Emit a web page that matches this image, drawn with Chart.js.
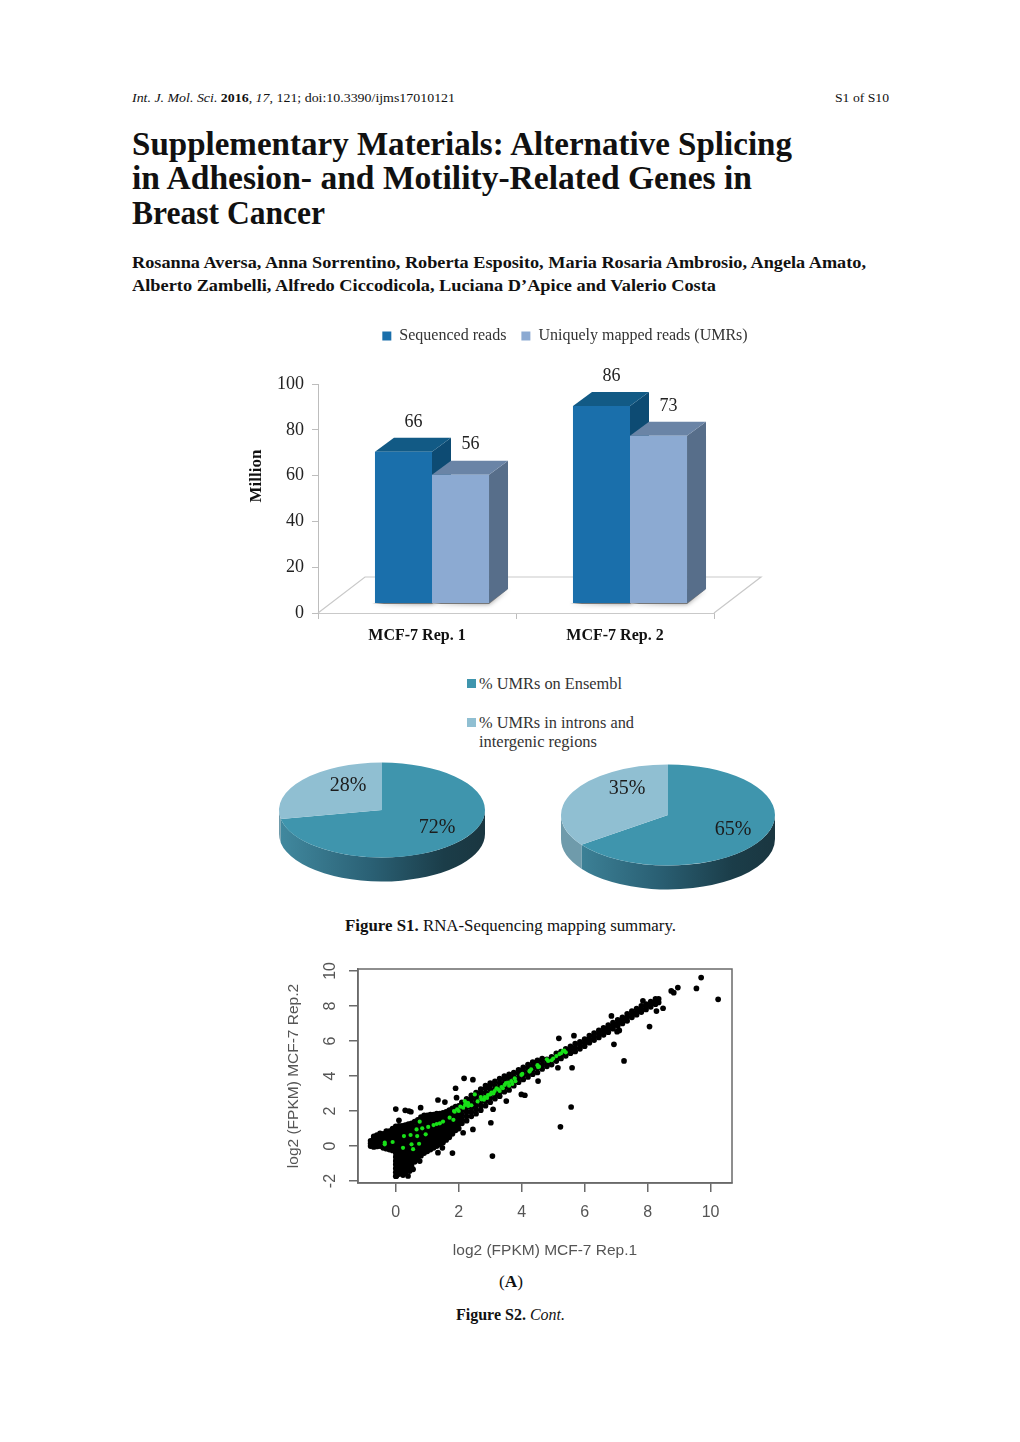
<!DOCTYPE html>
<html><head><meta charset="utf-8">
<script src="https://cdn.jsdelivr.net/npm/chart.js@4"></script>
<style>
html,body{margin:0;padding:0;background:#fff;width:1020px;height:1442px;overflow:hidden}
.t{position:absolute;white-space:nowrap;transform-origin:0 50%;font-family:"Liberation Serif",serif;color:#111;line-height:1}
canvas{position:absolute;filter:blur(.35px)}
.sw{position:absolute;width:9px;height:9px}
</style></head><body>
<div class="t" data-w="323" style="left:132px;top:91px;font-size:13.5px"><i>Int. J. Mol. Sci.</i> <b>2016</b>, <i>17</i>, 121; doi:10.3390/ijms17010121</div>
<div class="t" data-w="54" style="left:835px;top:91px;font-size:13.5px">S1 of S10</div>
<div class="t" data-w="660" style="left:132px;top:128px;font-size:33px;font-weight:bold">Supplementary Materials: Alternative Splicing</div>
<div class="t" data-w="620" style="left:132px;top:162px;font-size:33px;font-weight:bold">in Adhesion- and Motility-Related Genes in</div>
<div class="t" data-w="193" style="left:132px;top:197px;font-size:33px;font-weight:bold">Breast Cancer</div>
<div class="t" data-w="734" style="left:132px;top:254px;font-size:17px;font-weight:bold">Rosanna Aversa, Anna Sorrentino, Roberta Esposito, Maria Rosaria Ambrosio, Angela Amato,</div>
<div class="t" data-w="584" style="left:132px;top:277px;font-size:17px;font-weight:bold">Alberto Zambelli, Alfredo Ciccodicola, Luciana D’Apice and Valerio Costa</div>
<div class="sw" style="left:467px;top:679px;background:#3f95ad"></div>
<div class="t" data-w="143" style="left:479px;top:676px;font-size:16px;color:#333">% UMRs on Ensembl</div>
<div class="sw" style="left:467px;top:718px;background:#90bfd2"></div>
<div class="t" data-w="155" style="left:479px;top:715px;font-size:16px;color:#333">% UMRs in introns and</div>
<div class="t" data-w="118" style="left:479px;top:734px;font-size:16px;color:#333">intergenic regions</div>
<div class="t" data-w="331" style="left:345px;top:918px;font-size:16.5px"><b>Figure S1.</b> RNA-Sequencing mapping summary.</div>
<div class="t" data-w="24" style="left:499px;top:1274px;font-size:16.5px">(<b>A</b>)</div>
<div class="t" data-w="109" style="left:456px;top:1307px;font-size:16.5px"><b>Figure S2.</b> <i>Cont.</i></div>

<canvas id="bars" width="650" height="347" style="left:240px;top:313px"></canvas>
<canvas id="pieA" width="230" height="230" style="left:267px;top:695px"></canvas>
<canvas id="pieB" width="240" height="240" style="left:548px;top:695px"></canvas>
<canvas id="scatter" width="470" height="310" style="left:280px;top:955px"></canvas>

<script>
// ---- Figure S1 bar chart
const barCategories=['MCF-7 Rep. 1','MCF-7 Rep. 2'];
const sequencedReads=[66,86];
const uniquelyMappedReads=[56,73];
const barTicks=[0,20,40,60,80,100];
// ---- Figure S1 pie charts
const pieLabels=['% UMRs on Ensembl','% UMRs in introns and intergenic regions'];
const pieRep1=[72,28];
const pieRep2=[65,35];
// ---- Figure S2A scatter, log2 FPKM Rep.1 (x) against Rep.2 (y)
const scatterXTicks=[0,2,4,6,8,10];
const scatterYTicks=[-2,0,2,4,6,8,10];
// columns: [x,[y,y,...]]
const denseLow=[
[-0.8,[0,0.15,0.3]],[-0.7,[-0.05,0.12,0.3,0.48,0.55]],[-0.6,[-0.02,0.15,0.32,0.5,0.62]],[-0.5,[0,0.2,0.4,0.55,0.72]],
[-0.4,[-0.1,0.1,0.3,0.5,0.7]],[-0.3,[-0.15,0.05,0.25,0.45,0.65,0.85]],[-0.2,[-0.2,0,0.2,0.4,0.6,0.85]],[-0.1,[-0.25,0,0.2,0.4,0.6,0.8,1.0]],
[0,[-1.72,-1.5,-1.28,-1.05,-0.85,-0.62,-0.4,-0.2,0,0.2,0.4,0.6,0.8,1.0,1.12]],
[0.1,[-1.6,-1.4,-1.2,-1,-0.8,-0.6,-0.4,-0.2,0,0.2,0.4,0.6,0.8,1.0,1.15]],
[0.2,[-1.45,-1.25,-1.05,-0.85,-0.65,-0.45,-0.25,-0.05,0.15,0.35,0.55,0.75,0.95,1.15]],
[0.3,[-1.55,-1.3,-1.1,-0.9,-0.7,-0.5,-0.3,-0.1,0.1,0.3,0.5,0.7,0.9,1.1,1.2]],
[0.4,[-1.25,-1.05,-0.85,-0.65,-0.45,-0.25,-0.05,0.15,0.35,0.55,0.75,0.95,1.15,1.25]],
[0.5,[-1.15,-0.95,-0.75,-0.55,-0.35,-0.15,0.05,0.25,0.45,0.65,0.85,1.05,1.3]],
[0.6,[-0.9,-0.7,-0.5,-0.3,-0.1,0.1,0.3,0.5,0.7,0.9,1.1,1.4]],
[0.7,[-0.7,-0.45,-0.2,0.05,0.3,0.55,0.8,1.05,1.3,1.5]],
[0.8,[-0.55,-0.3,-0.05,0.2,0.45,0.7,0.95,1.2,1.45,1.65]],
[0.9,[-0.4,-0.15,0.1,0.35,0.6,0.85,1.1,1.35,1.6,1.75]],
[1,[-0.3,-0.05,0.2,0.45,0.7,0.95,1.2,1.45,1.7,1.75]],
[1.1,[-0.2,0.05,0.3,0.55,0.8,1.05,1.3,1.55,1.8]],
[1.2,[-0.1,0.15,0.4,0.65,0.9,1.15,1.4,1.65,1.8]],
[1.3,[0,0.25,0.5,0.75,1,1.25,1.5,1.75,1.85]],
[1.4,[0.1,0.35,0.6,0.85,1.1,1.35,1.6,1.85]],
[1.5,[0.2,0.45,0.7,0.95,1.2,1.45,1.7,1.9]],
[1.6,[0.35,0.6,0.85,1.1,1.35,1.6,1.85,1.95]],
[1.7,[0.5,0.75,1,1.25,1.5,1.75,2.05]],
[1.8,[0.7,0.95,1.2,1.45,1.7,1.95,2.15]],
[1.9,[0.9,1.15,1.4,1.65,1.9,2.25]],
[2,[1,1.25,1.5,1.75,2,2.3]]];
const denseMiddle=[
[2.1,[1.3,1.55,1.8,2.05,2.3,2.5]],[2.25,[1.45,1.7,1.95,2.2,2.45,2.7]],[2.4,[1.7,1.95,2.2,2.45,2.7,2.9]],
[2.55,[1.85,2.1,2.35,2.6,2.85,3.05]],[2.7,[2.05,2.3,2.55,2.8,3.05,3.25]],[2.85,[2.3,2.55,2.8,3.05,3.3,3.45]],
[3,[2.5,2.75,3,3.25,3.5,3.6]],[3.15,[2.7,2.95,3.2,3.45,3.7]],[3.3,[2.85,3.1,3.35,3.6,3.85]],[3.45,[3.1,3.35,3.6,3.85,4]],
[3.6,[3.2,3.45,3.7,3.95,4.1]],[3.75,[3.45,3.7,3.95,4.2]],[3.9,[3.65,3.9,4.15,4.35]],[4.05,[3.8,4.05,4.3,4.5]],
[4.2,[3.95,4.2,4.45,4.65]],[4.35,[4.1,4.35,4.6,4.8]],[4.5,[4.2,4.45,4.7,4.9]],[4.65,[4.4,4.65,4.9,5]]];
const denseHigh=[
[4.8,[4.55,4.75,4.95]],[4.95,[4.65,4.9,5.1]],[5.1,[4.85,5.05,5.3]],[5.25,[5,5.2,5.4]],[5.4,[5.15,5.35,5.55]],[5.55,[5.3,5.5,5.7]],
[5.7,[5.4,5.6,5.85]],[5.85,[5.55,5.75,5.95]],[6,[5.7,5.9,6.1]],[6.15,[5.9,6.1,6.3]],[6.3,[6.05,6.25,6.45]],[6.45,[6.2,6.4,6.6]],
[6.6,[6.35,6.55,6.75]],[6.75,[6.5,6.7,6.9]],[6.9,[6.7,6.85,7.05]],[7.05,[6.85,7,7.2]],[7.2,[7,7.2,7.35]],[7.35,[7.15,7.35,7.55]],
[7.5,[7.35,7.5,7.7]],[7.65,[7.5,7.65,7.85]],[7.8,[7.65,7.8,8]],[7.95,[7.8,7.95,8.1]],[8.1,[7.95,8.1,8.25]],[8.25,[8.1,8.25,8.4]],[8.35,[8.2,8.4]]];
const outliers=[
[9.7,9.62],[10.24,8.38],[9.55,9],[8.96,9.05],[8.75,8.86],[8.83,8.76],[8.49,7.87],[8.28,7.71],[8.06,6.82],[7.25,4.86],[6.93,5.81],
[7.03,6.53],[7.1,6.6],[6.85,7.43],[7.85,8.29],[5.66,6.3],[5.18,6.15],[5.6,4.47],[5.15,4.47],[5.57,2.23],[5.23,1.1],[4.52,3.71],
[2.17,3.87],[2.45,3.79],[1.9,3.3],[1.34,2.63],[1.56,2.51],[0,2.11],[0.3,2.04],[0.42,2],[0.48,1.96],[0.79,2.19],[0.1,1.47],[1.93,2.76],
[3.07,-0.57],[1.8,-0.4],[3.02,1.33],[2.45,0.95],[2.14,0.76],[1.48,-0.1],[1.34,-0.38],[0.76,-0.86],[0.55,-1.33],[0.44,-1.43],[0.23,-1.66],
[0.39,-1.71],[0.02,-1.71],[3.51,2.57],[3.09,2.1],[3.99,2.95],[4.1,2.9]];
const expressedGreen=[
[-0.35,0.19],[-0.35,0.1],[-0.1,0.23],[0.23,-0.1],[0.55,-0.18],[0.5,0.1],[0.74,0.13],[0.26,0.57],[0.47,0.63],[0.68,0.57],[0.66,0.95],
[0.84,1.01],[0.76,1.39],[0.95,0.67],[1.03,1.09],[1.2,1.2],[1.3,1.26],[1.4,1.3],[1.5,1.4],[1.71,1.62],[1.83,1.5],[1.87,1.96],[2,2],
[2.14,2.19],[2.24,2.48],[2.3,2.29],[2.19,2.57],[2.4,2.33],[2.51,2.95],[2.72,2.67],[2.83,2.8],[2.93,2.91],[3.04,3.05],[3.14,3.14],
[3.25,3.24],[3.36,3.37],[3.46,3.49],[3.57,3.62],[3.67,3.71],[3.78,3.87],[3.99,4.06],[4.25,4.29],[4.52,4.51],[4.55,4.53],[4.84,4.86],
[4.95,4.9],[5.1,5.14],[5.31,5.43],[5.4,5.35],[4.25,4.25],
[1.85,2],[1.95,2.1],[2.05,2.25],[2.2,2.35],[2.3,2.45],[2.6,2.55],[2.7,2.8],[2.8,2.65],[2.9,2.75],[3,2.95],[3.1,3],[3.2,3.3],[3.3,3.15],
[3.4,3.3],[3.5,3.6],[3.6,3.45],[3.7,3.55],[3.8,3.7],[4.02,4.12],[4.3,4.38],[4.5,4.62],[4.8,4.95],[5,5],[5.2,5.25],[5.25,5.3],[5.35,5.45]];

// fit each text line to the measured line width in the reference
document.querySelectorAll('.t').forEach(e=>{const w=e.getBoundingClientRect().width;e.style.transform='scaleX('+(+e.dataset.w/w)+')';});

const SERIF='"Liberation Serif",serif';
const depthX=19,depthY=14;
const barShift=15, floorDX=47, floorDY=36;
function quad(c,pts,fill){c.beginPath();pts.forEach((p,i)=>i?c.lineTo(p[0],p[1]):c.moveTo(p[0],p[1]));c.closePath();c.fillStyle=fill;c.fill();}
const bars3d={id:'bars3d',
 beforeDatasetsDraw(ch){
  const c=ch.ctx,a=ch.chartArea,b=a.bottom;
  c.save();
  c.strokeStyle='#c9c9c9';c.lineWidth=1.2;c.beginPath();
  c.moveTo(a.left,b);c.lineTo(a.left+floorDX,b-floorDY);c.lineTo(a.right+floorDX,b-floorDY);c.lineTo(a.right,b);c.stroke();
  c.restore();
  c.save();c.translate(barShift,0);
  const tones=[['#125a85','#0d4b73'],['#6a84a6','#576e8a']];
  [0,1].forEach(d=>ch.getDatasetMeta(d).data.forEach(el=>{
   const l=el.x-el.width/2,r=el.x+el.width/2,t=el.y,bs=el.base;
   c.save();c.shadowColor='rgba(0,0,0,.45)';c.shadowBlur=5;quad(c,[[l-3,bs+1],[r,bs+1],[r+depthX,bs-depthY],[r,bs-4]],'#777');c.restore();
   quad(c,[[r,t],[r+depthX,t-depthY],[r+depthX,bs-depthY],[r,bs]],tones[d][1]);
   quad(c,[[l,t],[l+depthX,t-depthY],[r+depthX,t-depthY],[r,t]],tones[d][0]);
  }));
 },
 afterDatasetsDraw(ch){
  const c=ch.ctx;
  c.textAlign='center';c.textBaseline='middle';c.fillStyle='#222';c.font='18px '+SERIF;
  [0,1].forEach(d=>ch.getDatasetMeta(d).data.forEach((el,i)=>{
   c.fillText(ch.data.datasets[d].data[i],el.x+10,el.y-30);
  }));
  c.restore();
  c.save();c.translate(17,163);c.rotate(-Math.PI/2);c.font='bold 17px '+SERIF;c.fillStyle='#111';c.textAlign='center';c.textBaseline='middle';c.fillText('Million',0,0);c.restore();
 }};
const legendGap={id:'legendGap',beforeInit(ch){if(!ch.legend)return;const f=ch.legend.fit;ch.legend.fit=function(){f.call(this);this.height=71;};}};

new Chart(document.getElementById('bars'),{type:'bar',
 data:{labels:barCategories,datasets:[
  {label:'Sequenced reads',data:sequencedReads,backgroundColor:'#1a6fab',yAxisID:'yBar',categoryPercentage:.576,barPercentage:1,order:0},
  {label:'Uniquely mapped reads (UMRs)',data:uniquelyMappedReads,backgroundColor:'#8caad2',yAxisID:'yBar',categoryPercentage:.576,barPercentage:1,order:1}]},
 options:{responsive:false,animation:false,devicePixelRatio:1,
  layout:{padding:0},
  plugins:{tooltip:{enabled:false},
   legend:{position:'top',labels:{boxWidth:9,boxHeight:9,color:'#333',padding:15,font:{family:'"Liberation Serif"',size:16}}}},
  scales:{
   x:{grid:{drawOnChartArea:false,offset:true,tickLength:6,color:'#bdbdbd'},border:{color:'#c9c9c9'},
      ticks:{color:'#111',padding:7,font:{family:'"Liberation Serif"',size:16,weight:'bold'}},
      afterFit(s){s.height=47;}},
   y:{position:'left',min:0,max:100,grid:{drawOnChartArea:false,tickLength:6,color:'#bdbdbd'},border:{color:'#bdbdbd'},
      afterBuildTicks(s){s.ticks=barTicks.map(v=>({value:v}));},
      ticks:{color:'#222',padding:8,font:{family:'"Liberation Serif"',size:18}},afterFit(s){s.width=78;}},
   yBar:{position:'right',min:-4.37,max:95.63,display:true,grid:{display:false},border:{display:false},ticks:{display:false},afterFit(s){s.width=176;}}
  }},plugins:[legendGap,bars3d]});

const pie3d={id:'pie3d',
 beforeDatasetsDraw(ch,args,o){
  const c=ch.ctx,m=ch.getDatasetMeta(0).data,e0=m[0],rx=e0.outerRadius,ry=rx*o.squash,cx=e0.x,cy=e0.y;
  const g=c.createLinearGradient(cx-rx,0,cx+rx,0);
  g.addColorStop(0,'#41899f');g.addColorStop(.45,'#2a6074');g.addColorStop(.8,'#1b3d49');g.addColorStop(1,'#1a3640');
  m.forEach((el,i)=>{
   const lo=Math.max(el.startAngle,0),hi=Math.min(el.endAngle,Math.PI);
   if(hi<=lo)return;
   c.beginPath();c.ellipse(cx,cy,rx,ry,0,lo,hi);c.ellipse(cx,cy+o.depth,rx,ry,0,hi,lo,true);c.closePath();
   c.fillStyle=i===0?g:'#6f9bab';c.fill();
  });
  c.save();c.translate(cx,cy);c.scale(1,o.squash);c.translate(-cx,-cy);
 },
 afterDatasetsDraw(ch,args,o){
  const c=ch.ctx,m=ch.getDatasetMeta(0).data,e0=m[0],cx=e0.x,cy=e0.y;
  c.restore();
  c.font='20px '+SERIF;c.fillStyle='#1c1c1c';c.textAlign='center';c.textBaseline='middle';
  ch.data.datasets[0].data.forEach((v,i)=>c.fillText(v+'%',cx+o.labelAt[i][0],cy+o.labelAt[i][1]));
 }};
function pie(id,values,squash,depth,labelAt,pad){
 new Chart(document.getElementById(id),{type:'pie',
  data:{labels:pieLabels,datasets:[{data:values,backgroundColor:['#3f95ad','#90bfd2'],borderWidth:0}]},
  options:{responsive:false,animation:false,devicePixelRatio:1,layout:{padding:pad},
   plugins:{legend:{display:false},tooltip:{enabled:false},pie3d:{squash,depth,labelAt}}},
  plugins:[pie3d]});
}
pie('pieA',pieRep1,.461,24,[[55,17.5],[-34,-24.5]],12);
pie('pieB',pieRep2,.472,24,[[65,14.5],[-41,-26.5]],13);

const flat=cols=>cols.flatMap(c=>c[1].map(y=>({x:c[0],y})));
const pts=list=>list.map(p=>({x:p[0],y:p[1]}));
const boxPlugin={id:'box',afterDraw(ch){const c=ch.ctx,a=ch.chartArea;c.save();c.strokeStyle='#6a6a6a';c.lineWidth=1.5;c.strokeRect(a.left,a.top,a.right-a.left,a.bottom-a.top);c.restore();}};
new Chart(document.getElementById('scatter'),{type:'scatter',
 data:{datasets:[
  {label:'green',data:pts(expressedGreen),pointRadius:2.1,pointBackgroundColor:'#18e018',pointBorderWidth:0,order:0},
  {label:'black',data:[...flat(denseLow),...flat(denseMiddle),...flat(denseHigh),...pts(outliers)],pointRadius:2.85,pointBackgroundColor:'#000',pointBorderWidth:0,order:1}]},
 options:{responsive:false,animation:false,devicePixelRatio:1,layout:{autoPadding:false,padding:{top:14,right:18,left:0,bottom:0}},
  plugins:{legend:{display:false},tooltip:{enabled:false}},
  scales:{
   x:{type:'linear',min:-1.2,max:10.68,grid:{drawOnChartArea:false,tickLength:9,color:'#6a6a6a',lineWidth:1.5},border:{color:'#6a6a6a',width:1.5},
      afterBuildTicks(s){s.ticks=scatterXTicks.map(v=>({value:v}));},
      ticks:{color:'#555',padding:11,maxRotation:0,font:{family:'"Liberation Sans"',size:16}},
      title:{display:true,text:'log2 (FPKM) MCF-7 Rep.1',color:'#555',padding:{top:0,bottom:5},font:{family:'"Liberation Sans"',size:15.5}},
      afterFit(s){s.height=82;s.paddingLeft=0;s.paddingRight=0;}},
   y:{type:'linear',min:-2.11,max:10.11,grid:{drawOnChartArea:false,tickLength:9,color:'#6a6a6a',lineWidth:1.5},border:{color:'#6a6a6a',width:1.5},
      afterBuildTicks(s){s.ticks=scatterYTicks.map(v=>({value:v}));},
      ticks:{color:'#555',padding:10,minRotation:90,maxRotation:90,crossAlign:'center',font:{family:'"Liberation Sans"',size:16}},
      title:{display:true,text:'log2 (FPKM) MCF-7 Rep.2',color:'#555',padding:{top:4,bottom:0},font:{family:'"Liberation Sans"',size:15.5}},
      afterFit(s){s.width=78;s.paddingTop=0;s.paddingBottom=0;}}
  }},plugins:[boxPlugin]});
</script>
</body></html>
